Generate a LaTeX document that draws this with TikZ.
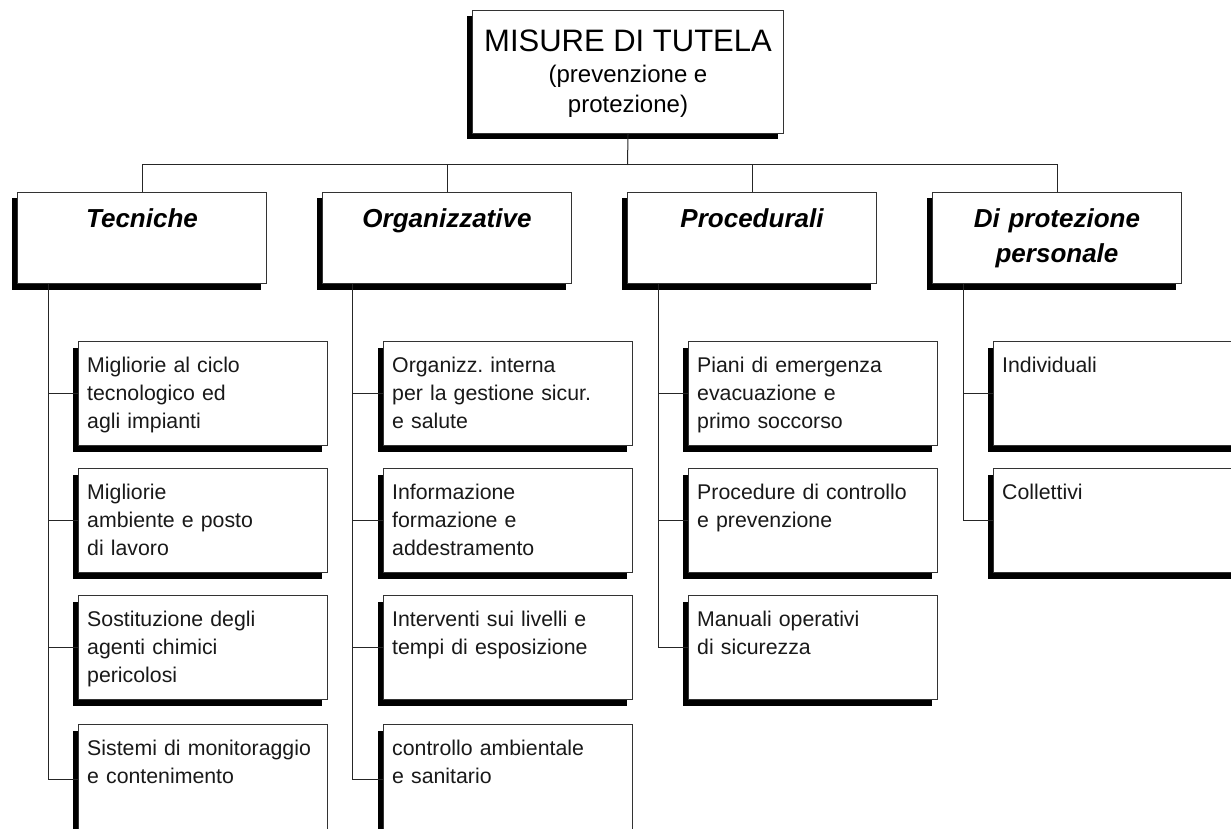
\documentclass[tikz,border=0pt]{standalone}
\usepackage{fontspec}
\setmainfont{Liberation Sans}
\frenchspacing
\usetikzlibrary{shadows,calc}
\begin{document}
\begin{tikzpicture}[x=1pt,y=-1pt,
  shbox/.style={draw=black!80, line width=1pt, fill=white, inner sep=0pt, anchor=north west,
    drop shadow={shadow xshift=-6pt, shadow yshift=-6pt, fill=black, opacity=1}},
  catbox/.style={shbox, minimum width=249pt, minimum height=91pt},
  leafbox/.style={shbox, minimum width=249pt, minimum height=104pt},
  lastbox/.style={shbox, minimum width=249pt, minimum height=110pt},
  conn/.style={draw=black!85, line width=1pt},
  leaftext/.style={anchor=base west, inner sep=0pt, text width=238pt, align=left,
    font=\fontsize{21.3}{28}\selectfont, text=black!90},
  cattext/.style={anchor=base, inner sep=0pt, text width=240pt, align=center,
    font=\fontsize{26}{34}\selectfont\bfseries\itshape},
  toptext/.style={anchor=base, inner sep=0pt},
]
\useasboundingbox (0,0) rectangle (1231,829);
\clip (0,0) rectangle (1231,829);

% top box
\node[shbox, minimum width=311pt, minimum height=123pt] (top) at (472,10) {};
\node[toptext, font=\fontsize{31}{31}\selectfont] (topl1) at ($(top.north)+(0,42)$) {MISURE DI TUTELA};
\node[toptext, font=\fontsize{24}{30}\selectfont] (topl2) at ($(top.north)+(0,73)$) {(prevenzione e};
\node[toptext, font=\fontsize{24}{30}\selectfont] (topl3) at ($(top.north)+(0,103)$) {protezione)};

% categories
\node[catbox] (c1) at (17,192) {};
\node[catbox] (c2) at (322,192) {};
\node[catbox] (c3) at (627,192) {};
\node[catbox] (c4) at (932,192) {};
\node[cattext] (c1t) at ($(c1.north)+(0,36)$) {Tecniche};
\node[cattext] (c2t) at ($(c2.north)+(0,36)$) {Organizzative};
\node[cattext] (c3t) at ($(c3.north)+(0,36)$) {Procedurali};
\node[cattext] (c4t) at ($(c4.north)+(0,36)$) {Di protezione\\personale};

% leaves column 1
\node[leafbox] (l1a) at (78,341) {};
\node[leafbox] (l1b) at (78,468) {};
\node[leafbox] (l1c) at (78,595) {};
\node[lastbox] (l1d) at (78,724) {};
% column 2
\node[leafbox] (l2a) at (383,341) {};
\node[leafbox] (l2b) at (383,468) {};
\node[leafbox] (l2c) at (383,595) {};
\node[lastbox] (l2d) at (383,724) {};
% column 3
\node[leafbox] (l3a) at (688,341) {};
\node[leafbox] (l3b) at (688,468) {};
\node[leafbox] (l3c) at (688,595) {};
% column 4
\node[leafbox] (l4a) at (993,341) {};
\node[leafbox] (l4b) at (993,468) {};

% leaf texts
\node[leaftext] (t1a) at ($(l1a.north west)+(9,31)$) {Migliorie al ciclo\\tecnologico ed\\agli impianti};
\node[leaftext] (t1b) at ($(l1b.north west)+(9,31)$) {Migliorie\\ambiente e posto\\di lavoro};
\node[leaftext] (t1c) at ($(l1c.north west)+(9,31)$) {Sostituzione degli\\agenti chimici\\pericolosi};
\node[leaftext] (t1d) at ($(l1d.north west)+(9,31)$) {Sistemi di monitoraggio\\e contenimento};
\node[leaftext] (t2a) at ($(l2a.north west)+(9,31)$) {Organizz. interna\\per la gestione sicur.\\e salute};
\node[leaftext] (t2b) at ($(l2b.north west)+(9,31)$) {Informazione\\formazione e\\addestramento};
\node[leaftext] (t2c) at ($(l2c.north west)+(9,31)$) {Interventi sui livelli e\\tempi di esposizione};
\node[leaftext] (t2d) at ($(l2d.north west)+(9,31)$) {controllo ambientale\\e sanitario};
\node[leaftext] (t3a) at ($(l3a.north west)+(9,31)$) {Piani di emergenza\\evacuazione e\\primo soccorso};
\node[leaftext] (t3b) at ($(l3b.north west)+(9,31)$) {Procedure di controllo\\e prevenzione};
\node[leaftext] (t3c) at ($(l3c.north west)+(9,31)$) {Manuali operativi\\di sicurezza};
\node[leaftext] (t4a) at ($(l4a.north west)+(9,31)$) {Individuali};
\node[leaftext] (t4b) at ($(l4b.north west)+(9,31)$) {Collettivi};

% connectors: top to categories
\coordinate (bus) at (627.5,165);
\draw[conn] (top.south) -- (bus);
\foreach \c in {c1,c2,c3,c4} \draw[conn] (bus) -| (\c.north);

% connectors: categories to leaves
\foreach \l in {l1a,l1b,l1c,l1d} \draw[conn] ($(c1.south west)+(31,0)$) |- (\l.west);
\foreach \l in {l2a,l2b,l2c,l2d} \draw[conn] ($(c2.south west)+(30,0)$) |- (\l.west);
\foreach \l in {l3a,l3b,l3c} \draw[conn] ($(c3.south west)+(31,0)$) |- (\l.west);
\foreach \l in {l4a,l4b} \draw[conn] ($(c4.south west)+(31,0)$) |- (\l.west);
\end{tikzpicture}
\end{document}
